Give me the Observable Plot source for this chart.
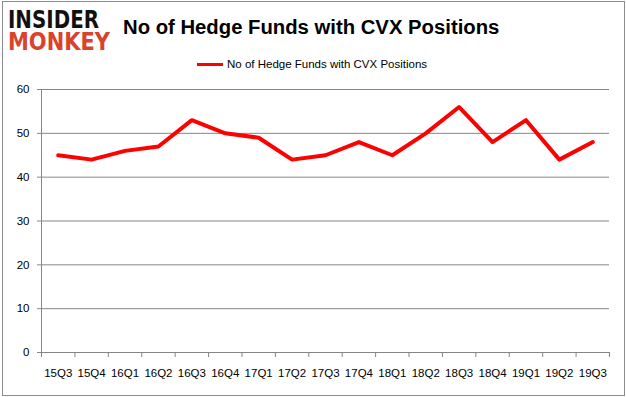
<!DOCTYPE html>
<html>
<head>
<meta charset="utf-8">
<script src="https://cdn.jsdelivr.net/npm/d3@7"></script>
<script src="https://cdn.jsdelivr.net/npm/@observablehq/plot@0.6"></script>
<style>
  html, body { margin: 0; padding: 0; background: #fff; }
  #wrap { position: relative; width: 626px; height: 397px; overflow: hidden; font-family: "Liberation Sans", Arial, sans-serif; }
  #frame { position: absolute; left: 2px; top: 1px; width: 621px; height: 393px; border: 1px solid #8c8c8c; pointer-events: none; }
  #chart { position: absolute; left: 0; top: 0; }
  #title { position: absolute; left: 123px; top: 17px; font-size: 20.3px; line-height: 1; font-weight: bold; color: #000; white-space: nowrap; }
  #legend { position: absolute; left: 197px; top: 57px; height: 14px; font-size: 11.5px; line-height: 14px; color: #000; white-space: nowrap; display: flex; align-items: center; }
  #legend .sw { display: inline-block; width: 26px; height: 3px; background: #ff0000; margin-right: 4px; }
  #logo { position: absolute; left: 6px; top: 3px; overflow: visible; }
</style>
</head>
<body>
<div id="wrap">
  <svg id="logo" width="112" height="54">
    <text x="2" y="25" font-family="DejaVu Sans" font-weight="bold" font-size="21" fill="#111" textLength="91" lengthAdjust="spacingAndGlyphs" transform="translate(0,-4) scale(1,1.18)">INSIDER</text>
    <text x="2" y="43" font-family="DejaVu Sans" font-weight="bold" font-size="21" fill="#d9432b" textLength="102" lengthAdjust="spacingAndGlyphs" transform="translate(0,-4) scale(1,1.18)">MONKEY</text>
  </svg>
  <div id="title">No of Hedge Funds with CVX Positions</div>
  <div id="legend"><span class="sw"></span><span>No of Hedge Funds with CVX Positions</span></div>
  <div id="chart"></div>
  <div id="frame"></div>
</div>
<script>
const quarters = ["15Q3","15Q4","16Q1","16Q2","16Q3","16Q4","17Q1","17Q2","17Q3","17Q4","18Q1","18Q2","18Q3","18Q4","19Q1","19Q2","19Q3"];
const funds = [45, 44, 46, 47, 53, 50, 49, 44, 45, 48, 45, 50, 56, 48, 53, 44, 48];
const yTicks = [0, 10, 20, 30, 40, 50, 60];

const n = quarters.length;
const data = quarters.map((q, i) => ({q, i, v: funds[i]}));
const boundaries = d3.range(n + 1).map(k => k - 0.5);
const grey = "#868686";

const chart = Plot.plot({
  width: 626,
  height: 397,
  marginLeft: 41,
  marginRight: 17,
  marginTop: 89,
  marginBottom: 45,
  x: {type: "linear", domain: [-0.5, n - 0.5], axis: null},
  y: {domain: [0, 60], axis: null},
  style: {fontFamily: "Liberation Sans, Arial, sans-serif", fontSize: "11px", background: "transparent"},
  marks: [
    Plot.ruleY(yTicks, {y: d => d, x1: -0.5, x2: n - 0.5, insetLeft: -4, stroke: grey, strokeWidth: 1}),
    Plot.ruleX(boundaries, {x: d => d, y1: 0, y2: 0, insetBottom: -5, stroke: grey, strokeWidth: 1}),
    Plot.ruleX([-0.5], {x: d => d, y1: 0, y2: 60, stroke: grey, strokeWidth: 1}),
    Plot.text(yTicks, {x: -0.5, y: d => d, text: d => String(d), dx: -12, textAnchor: "end", fill: "#000", fontSize: 11.5}),
    Plot.text(data, {x: "i", y: 0, text: "q", dy: 21, fill: "#000", fontSize: 11.5}),
    Plot.line(data, {x: "i", y: "v", stroke: "#ff0000", strokeWidth: 4, strokeLinejoin: "round", strokeLinecap: "round"})
  ]
});
document.getElementById("chart").appendChild(chart);
</script>
</body>
</html>
